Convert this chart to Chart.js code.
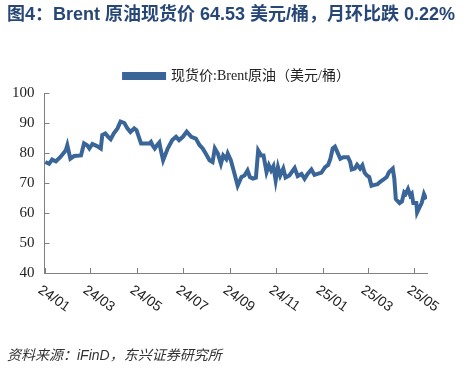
<!DOCTYPE html>
<html>
<head>
<meta charset="utf-8">
<script src="https://cdn.jsdelivr.net/npm/chart.js@4.4.0/dist/chart.umd.min.js"></script>
<style>
  html, body { margin: 0; padding: 0; background: #fff; }
  #wrap { width: 474px; height: 369px; position: relative; }
</style>
</head>
<body>
<div id="wrap"><canvas id="brentChart"></canvas></div>
<script>
// 数据：现货价 Brent 原油（美元/桶）
const dates = [
  '2024-01-02','2024-01-07','2024-01-11','2024-01-16','2024-01-22','2024-01-29','2024-01-31',
  '2024-02-04','2024-02-09','2024-02-18','2024-02-22','2024-02-26','2024-02-29',
  '2024-03-04','2024-03-10','2024-03-15','2024-03-17','2024-03-21','2024-03-25','2024-03-28',
  '2024-04-01','2024-04-06','2024-04-10','2024-04-15','2024-04-19','2024-04-23','2024-04-28',
  '2024-05-01','2024-05-04','2024-05-07','2024-05-13','2024-05-18','2024-05-20','2024-05-22',
  '2024-05-25','2024-05-28','2024-05-31','2024-06-02','2024-06-05','2024-06-11','2024-06-17',
  '2024-06-22','2024-06-26','2024-07-01','2024-07-06','2024-07-12','2024-07-18','2024-07-23',
  '2024-07-27','2024-07-31','2024-08-05','2024-08-09','2024-08-12','2024-08-16','2024-08-20',
  '2024-08-23','2024-08-27','2024-08-29','2024-09-02','2024-09-05','2024-09-08','2024-09-11',
  '2024-09-16','2024-09-20','2024-09-24','2024-09-27','2024-10-01','2024-10-05','2024-10-08',
  '2024-10-12','2024-10-15','2024-10-19','2024-10-22','2024-10-25','2024-10-28','2024-10-31',
  '2024-11-03','2024-11-06','2024-11-10','2024-11-13','2024-11-18','2024-11-25','2024-11-29',
  '2024-12-04','2024-12-08','2024-12-12','2024-12-17','2024-12-21','2024-12-28','2024-12-30',
  '2025-01-04','2025-01-08','2025-01-11','2025-01-14','2025-01-17','2025-01-21','2025-01-24',
  '2025-01-28','2025-02-03','2025-02-06','2025-02-08','2025-02-12','2025-02-15','2025-02-19',
  '2025-02-22','2025-02-25','2025-02-28','2025-03-03','2025-03-06','2025-03-09','2025-03-14',
  '2025-03-17','2025-03-21','2025-03-26','2025-03-29','2025-04-03','2025-04-05','2025-04-07',
  '2025-04-12','2025-04-15','2025-04-18','2025-04-20','2025-04-23','2025-04-26','2025-04-28',
  '2025-04-30','2025-05-04','2025-05-05','2025-05-08','2025-05-11','2025-05-14','2025-05-17'
];
const prices = [
  77.0, 76.4, 77.8, 77.2, 78.7, 80.9, 82.6,
  78.1, 79.0, 79.2, 83.2, 82.6, 81.5,
  83.0, 82.3, 81.5, 86.0, 86.5, 85.3, 84.6,
  86.5, 88.2, 90.5, 90.0, 88.2, 87.0, 88.2,
  87.6, 85.4, 83.2, 83.2, 83.2, 83.7, 82.6,
  81.5, 82.6, 83.5, 80.9, 77.6, 81.5, 84.3,
  85.4, 84.3, 85.4, 87.1, 85.4, 84.8, 82.6,
  81.5, 79.8, 77.6, 77.0, 81.5, 79.8, 76.4,
  79.2, 78.0, 79.8, 77.6, 74.8, 72.0, 69.1,
  72.0, 72.5, 74.2, 72.0, 71.5, 71.8, 80.9,
  79.2, 79.2, 73.6, 75.9, 74.2, 75.6, 70.8,
  75.3, 72.5, 74.8, 71.8, 72.5, 75.0, 72.3,
  73.0, 71.4, 73.0, 74.5, 72.7, 73.3, 73.4,
  75.3, 76.0, 78.1, 81.5, 82.1, 79.8, 78.1,
  78.6, 78.6, 77.0, 74.5, 74.8, 76.1, 74.8,
  75.9, 73.4, 72.5, 72.0, 69.1, 69.3, 69.6,
  70.3, 71.0, 72.0, 73.6, 74.8, 71.5, 64.6,
  63.3, 63.8, 66.9, 66.4, 68.0, 65.8, 66.4,
  63.3, 63.3, 60.2, 61.8, 63.3, 66.3, 64.53
];
const tickDates = ['2024-01-01','2024-03-01','2024-05-01','2024-07-01','2024-09-01','2024-11-01','2025-01-01','2025-03-01','2025-05-01'];
const tickLabels = ['24/01','24/03','24/05','24/07','24/09','24/11','25/01','25/03','25/05'];
const yTicks = [40, 50, 60, 70, 80, 90, 100];

const seriesName = '现货价:Brent原油（美元/桶）';
const titleText = '图4：Brent 原油现货价 64.53 美元/桶，月环比跌 0.22%';
const sourceText = '资料来源：iFinD，东兴证券研究所';

// 日期转成从 2024-01-01 起的天数
const t0 = Date.parse('2024-01-01');
const toDay = s => (Date.parse(s) - t0) / 86400000;
const tickDays = tickDates.map(toDay);

const lineColor = '#3A6598';
const axisColor = '#808080';

// 标题、来源、内向刻度和斜的日期标签
const extras = {
  id: 'extras',
  afterDraw(chart) {
    const ctx = chart.ctx;
    const xs = chart.scales.x, ys = chart.scales.y;
    const area = chart.chartArea;
    ctx.save();
    ctx.strokeStyle = axisColor;
    ctx.lineWidth = 1;
    ys.ticks.forEach(t => {
      const y = Math.round(ys.getPixelForValue(t.value)) + 0.5;
      ctx.beginPath();
      ctx.moveTo(area.left, y);
      ctx.lineTo(area.left + 5, y);
      ctx.stroke();
    });
    ctx.fillStyle = '#222';
    ctx.font = '14px "Liberation Sans", Arial, sans-serif';
    ctx.textAlign = 'left';
    ctx.textBaseline = 'top';
    xs.ticks.forEach((t, i) => {
      const x = Math.round(xs.getPixelForValue(t.value)) + 0.5;
      ctx.beginPath();
      ctx.moveTo(x, area.bottom);
      ctx.lineTo(x, area.bottom - 5);
      ctx.stroke();
      ctx.save();
      ctx.translate(x - 2, area.bottom + 10);
      ctx.rotate(35 * Math.PI / 180);
      ctx.fillText(tickLabels[i], 0, 0);
      ctx.restore();
    });
    // 标题
    ctx.fillStyle = '#274777';
    ctx.textBaseline = 'middle';
    ctx.font = 'bold 18px "Liberation Sans", "Noto Sans CJK SC", sans-serif';
    ctx.fillText(titleText, 7, 15);
    // 来源
    ctx.fillStyle = '#333';
    ctx.font = 'italic 14px "Liberation Sans", "Noto Sans CJK SC", sans-serif';
    ctx.fillText(sourceText, 7, 356);
    ctx.restore();
  }
};

new Chart(document.getElementById('brentChart'), {
  type: 'line',
  data: {
    datasets: [{
      label: seriesName,
      data: dates.map((d, i) => ({ x: toDay(d), y: prices[i] })),
      borderColor: lineColor,
      backgroundColor: lineColor,
      borderWidth: 4,
      pointRadius: 0,
      tension: 0
    }]
  },
  options: {
    responsive: true,
    maintainAspectRatio: false,
    animation: false,
    devicePixelRatio: 1,
    layout: { padding: { top: 53, left: 2, right: 2, bottom: 96 } },
    plugins: {
      legend: {
        display: true,
        position: 'top',
        labels: {
          boxWidth: 40,
          boxHeight: 4,
          padding: 16,
          color: '#222',
          font: { size: 14, family: '"Liberation Serif", "Noto Sans CJK SC", serif' }
        }
      },
      tooltip: { enabled: false }
    },
    scales: {
      x: {
        type: 'linear',
        min: 0,
        max: 503,
        afterBuildTicks: axis => { axis.ticks = tickDays.map(v => ({ value: v })); },
        ticks: { display: false },
        grid: { display: false, drawTicks: false },
        border: { display: true, color: axisColor, width: 1 }
      },
      y: {
        min: 40,
        max: 100,
        afterBuildTicks: axis => { axis.ticks = yTicks.map(v => ({ value: v })); },
        ticks: {
          color: '#222',
          padding: 10,
          font: { size: 15, family: '"Liberation Serif", serif' }
        },
        grid: { display: false, drawTicks: false },
        border: { display: true, color: axisColor, width: 1 }
      },
      // 右侧留白，让图例居中
      yRight: {
        position: 'right',
        min: 40,
        max: 100,
        ticks: { display: false },
        grid: { display: false, drawTicks: false },
        border: { display: false },
        afterFit: scale => { scale.width = 45; }
      }
    }
  },
  plugins: [extras]
});
</script>
</body>
</html>
